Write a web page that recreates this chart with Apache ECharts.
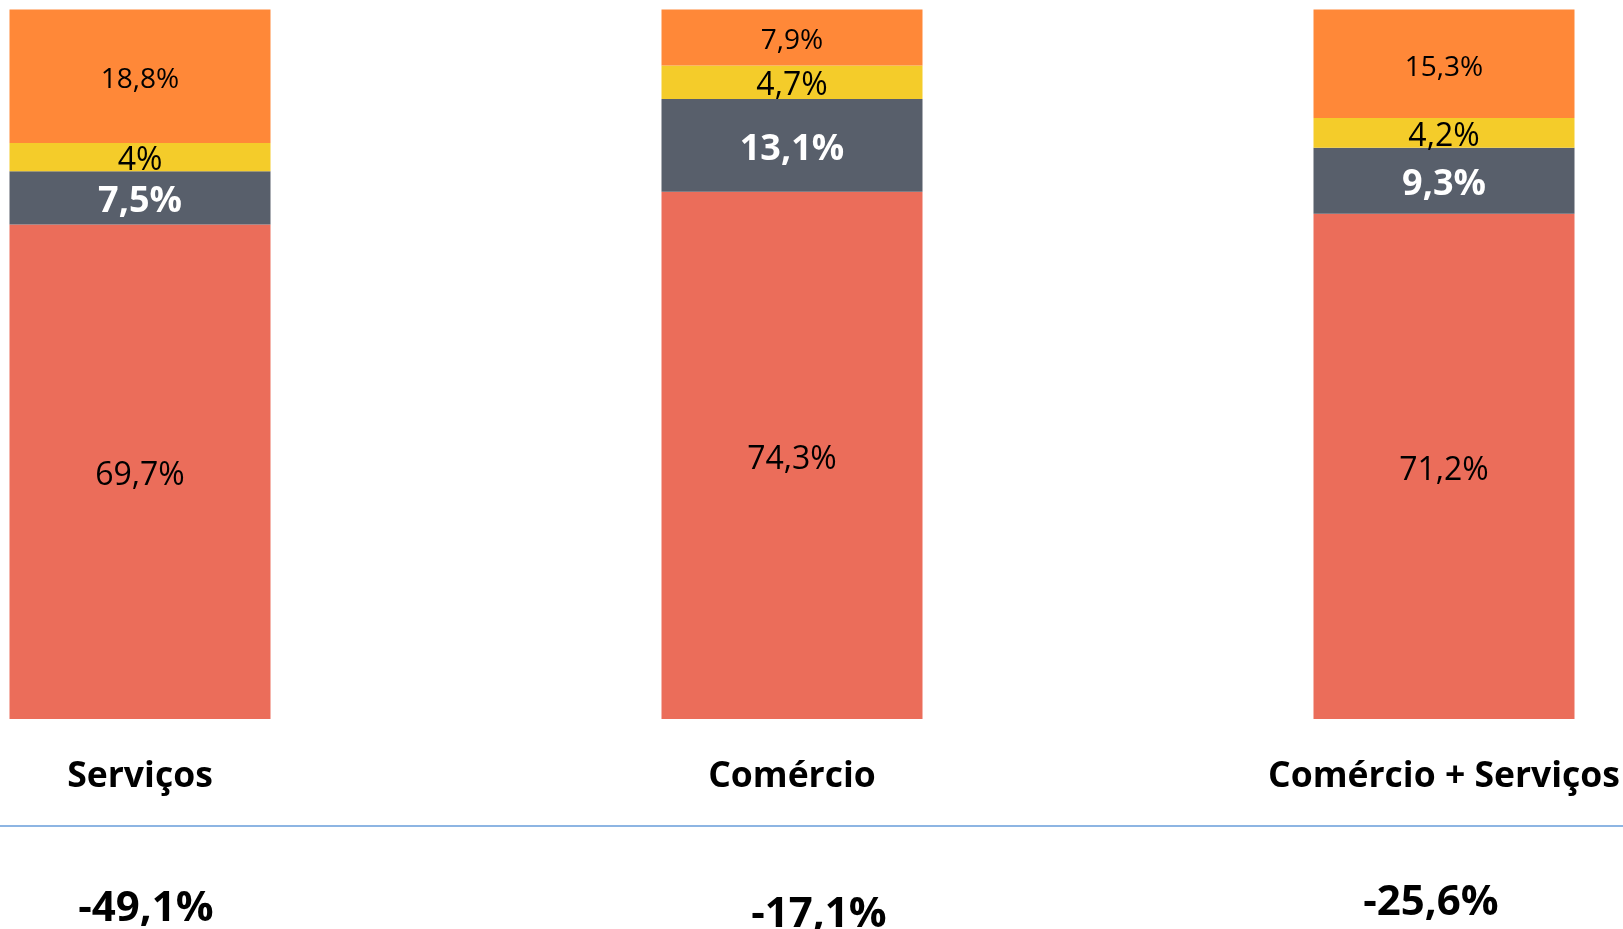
<!DOCTYPE html>
<html>
<head>
<meta charset="utf-8">
<script src="https://cdn.jsdelivr.net/npm/echarts@6/dist/echarts.min.js"></script>
<style>
  html, body { margin: 0; padding: 0; background: #ffffff; }
  #chart { width: 1623px; height: 929px; }
</style>
</head>
<body>
<div id="chart"></div>
<script>
// dados (%)
var categorias = ['Serviços', 'Comércio', 'Comércio + Serviços'];
var serieBase    = [69.7, 74.3, 71.2];   // vermelho
var serieCinza   = [7.5, 13.1, 9.3];
var serieAmarela = [4, 4.7, 4.2];
var serieLaranja = [18.8, 7.9, 15.3];
var variacao = ['-49,1%', '-17,1%', '-25,6%'];

var fonte = "'Open Sans', 'Noto Sans', sans-serif";

function pct(p) {
  return String(p.value).replace('.', ',') + '%';
}

function barra(nome, dados, cor, corTexto, tam, negrito) {
  return {
    name: nome,
    type: 'bar',
    stack: 'total',
    data: dados,
    barWidth: 261,
    clip: false,
    itemStyle: { color: cor },
    label: {
      show: true,
      position: 'inside',
      offset: [0, 4],
      formatter: pct,
      color: corTexto,
      fontSize: tam,
      fontWeight: negrito ? 'bold' : 'normal',
      fontFamily: fonte
    }
  };
}

var dom = document.getElementById('chart');
var myChart = echarts.init(dom);

var option = {
  backgroundColor: '#ffffff',
  animation: false,
  grid: {
    left: 140,
    right: 179,
    top: 9.5,
    bottom: 210,
    outerBoundsMode: 'none'
  },
  xAxis: {
    type: 'category',
    data: categorias,
    boundaryGap: false,
    axisLine: { show: false },
    axisTick: { show: false },
    splitLine: { show: false },
    axisLabel: {
      margin: 40,
      color: '#000000',
      fontSize: 35.5,
      fontWeight: 'bold',
      fontFamily: fonte,
      interval: 0
    }
  },
  yAxis: {
    type: 'value',
    min: 0,
    max: 100,
    show: false,
    splitLine: { show: false }
  },
  series: [
    barra('Base', serieBase, '#EB6D5A', '#000000', 32, false),
    barra('Cinza', serieCinza, '#585F6B', '#ffffff', 36, true),
    barra('Amarela', serieAmarela, '#F4CC2A', '#000000', 32, false),
    barra('Laranja', serieLaranja, '#FF8838', '#000000', 28, false)
  ]
};

if (option && typeof option === "object") {
  myChart.setOption(option, true);

  // linha separadora e variações abaixo das categorias
  var desloc = [6, 27, -13];
  var alturas = [909, 915, 903];
  var graficos = [{
    type: 'line',
    shape: { x1: 0, y1: 826, x2: 1623, y2: 826 },
    style: { stroke: '#8DB5E3', lineWidth: 2 },
    silent: true
  }];
  categorias.forEach(function (c, i) {
    var x = myChart.convertToPixel({ xAxisIndex: 0 }, c);
    graficos.push({
      type: 'text',
      x: x + desloc[i],
      y: alturas[i],
      style: {
        text: variacao[i],
        fill: '#000000',
        font: 'bold 42px ' + fonte,
        align: 'center',
        verticalAlign: 'middle'
      },
      silent: true
    });
  });
  myChart.setOption({ graphic: graficos });
}
</script>
</body>
</html>
